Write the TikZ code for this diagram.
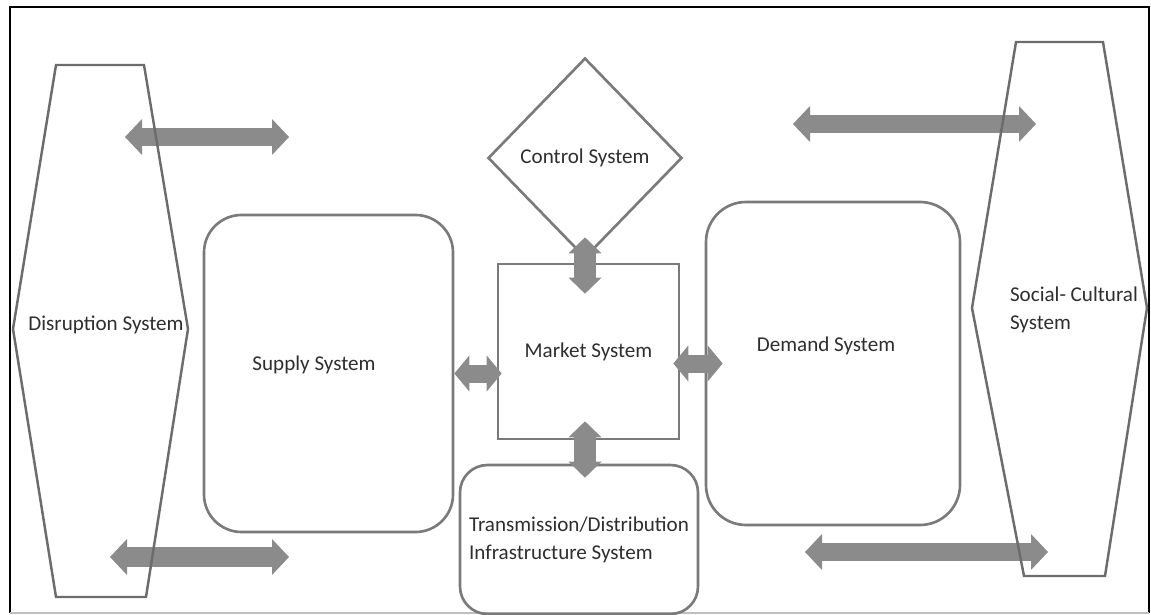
\documentclass[tikz,border=0pt]{standalone}
\usepackage{fontspec}
\setmainfont{Carlito}
\usepackage{tikz}
\usetikzlibrary{shapes.geometric, arrows.meta}
\definecolor{BoxGrey}{HTML}{7A7A7A}
\definecolor{HexGrey}{HTML}{6C6C6C}
\definecolor{ArrowGrey}{HTML}{8B8B8B}
\definecolor{TextGrey}{HTML}{2E2E2E}

\begin{document}
\begin{tikzpicture}[
  font=\fontsize{12}{16}\selectfont,
  sysbox/.style={draw=BoxGrey, line width=1.5pt, rounded corners=0.75cm, text=TextGrey},
  hexline/.style={draw=HexGrey, line width=1.4pt},
  lbl/.style={text=TextGrey, inner sep=0pt, align=left},
  fat/.style n args={3}{draw=ArrowGrey, line width=#1, >={Triangle[length=#2,width=#3,line width=0pt]}, <->},
  fatside/.style={fat={0.35cm}{0.34cm}{0.72cm}},
  fath/.style={fat={0.36cm}{0.3cm}{0.72cm}},
  fatv/.style={fat={0.44cm}{0.32cm}{0.66cm}}
]
\useasboundingbox (0,0) rectangle (23.02,-12.30);
\draw[black, line width=1.5pt] (0.2,-12.26) -- (0.2,-0.14) -- (22.98,-0.14) -- (22.98,-12.26);
\draw[black!25, line width=1pt] (0.2,-12.26) -- (22.98,-12.26);

\node[sysbox, minimum width=4.98cm, minimum height=6.34cm] (supply) at (6.57,-7.47) {};
\node[lbl] (supplytxt) at (6.28,-7.30) {Supply System};
\node[sysbox, sharp corners, minimum width=3.62cm, minimum height=3.5cm] (market) at (11.77,-7.03) {Market System};
\node[sysbox, rounded corners=0.8cm, minimum width=5.08cm, minimum height=6.46cm] (demand) at (16.66,-7.27) {};
\node[lbl] (demandtxt) at (16.52,-6.92) {Demand System};
\node[sysbox, rounded corners=0.55cm, minimum width=4.76cm, minimum height=2.98cm, align=left] (trans) at (11.58,-10.79) {Transmission/Distribution\\Infrastructure System};
\node[draw=BoxGrey, line width=1.5pt, diamond, minimum width=3.88cm, minimum height=4cm, inner sep=0pt, text=TextGrey] (control) at (11.70,-3.16) {Control System};

\coordinate (disA) at (2.50,-2.74);
\coordinate (disB) at (5.78,-2.74);
\coordinate (disC) at (2.20,-11.14);
\coordinate (disD) at (5.78,-11.14);
\coordinate (socA) at (15.86,-2.48);
\coordinate (socB) at (20.72,-2.48);
\coordinate (socC) at (16.10,-11.04);
\coordinate (socD) at (20.96,-11.04);

\draw[fatside] (disA) -- (disB);
\draw[fatside, line width=0.4cm] (disC) -- (disD);
\draw[fatside] (socA) -- (socB);
\draw[fatside] (socC) -- (socD);
\draw[fath, shorten >=-0.1cm] (supply.east) -- (supply.east -| market.west);
\draw[fath, shorten <=-0.14cm, shorten >=-0.36cm] (market.east |- demand.west) -- (demand.west);
\draw[fatv, shorten <=-0.44cm, shorten >=-0.62cm] (control.south) -- (control.south |- market.north);
\draw[fatv, shorten <=-0.38cm, shorten >=-0.28cm] (market.south -| control.south) -- (trans.north -| control.south);

\draw[hexline] (1.12,-1.30) -- (2.88,-1.30) -- (3.76,-6.58) -- (2.92,-11.94) -- (1.12,-11.94) -- (0.26,-6.58) -- cycle;
\node[lbl] (disrupt) at (2.12,-6.50) {Disruption System};
\draw[hexline] (20.32,-0.84) -- (22.06,-0.84) -- (22.94,-6.16) -- (22.10,-11.52) -- (20.48,-11.52) -- (19.44,-6.16) -- cycle;
\node[lbl] (social) at (21.48,-6.19) {Social- Cultural\\System};
\end{tikzpicture}
\end{document}
